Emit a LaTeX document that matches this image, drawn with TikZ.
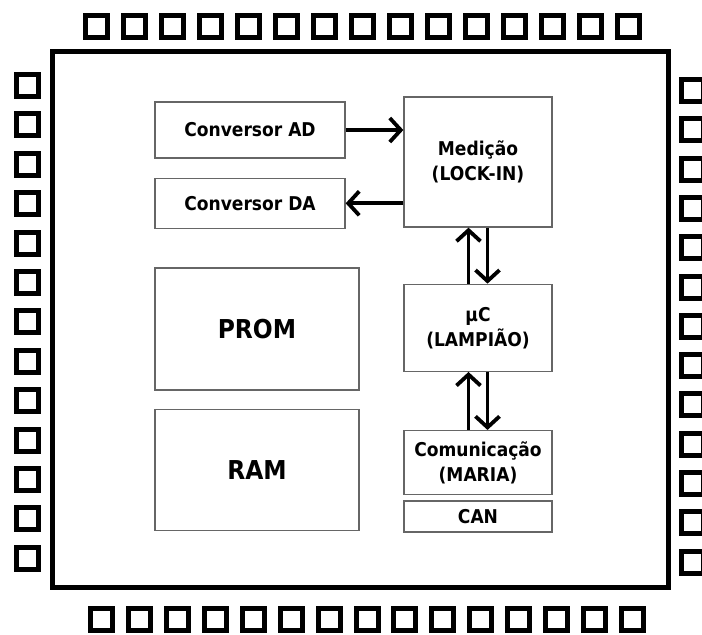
\documentclass[tikz,border=0pt]{standalone}
\usepackage{fontspec}
\setmainfont{DejaVu Sans}[FakeStretch=0.9]
\usetikzlibrary{arrows.meta, positioning}

\tikzset{
  chip/.style={draw, line width=5pt, inner sep=0pt},
  pad/.style={draw, line width=5pt, minimum size=22pt, inner sep=0pt},
  block/.style={draw=black!60, line width=1.3pt, inner sep=0pt, align=center,
    font=\bfseries\fontsize{19}{25}\selectfont},
  bigblock/.style={block, font=\bfseries\fontsize{26}{30}\selectfont},
  flow/.style={line width=3.8pt, -{Straight Barb[length=11pt,width=24pt]}},
}

\begin{document}
\begin{tikzpicture}[x=1pt, y=-1pt]
  \useasboundingbox (0,0) rectangle (702,635);
  % chip body
  \node [chip, minimum width=616pt, minimum height=536pt] (chip) at (360.5,319.5) {};
  % pads round the chip
  \foreach \i in {0,...,14} {
    \node [pad] (top\i) at (96.5+38*\i, 26.5) {};
    \node [pad] (bot\i) at (101.5+37.93*\i, 619) {};
  }
  \foreach \i in {0,...,12} {
    \node [pad] (left\i) at (27.5, 85.5+39.4*\i) {};
    \node [pad] (right\i) at (692, 90.5+39.3*\i) {};
  }
  % converters
  \node [block, minimum width=190pt, minimum height=56pt] (ad) at (250,130) {Conversor AD};
  \node [block, minimum width=190pt, minimum height=50pt, below=19pt of ad] (da) {Conversor DA};
  % memories
  \node [bigblock, minimum width=204pt, minimum height=122pt] (prom) at (257,329) {PROM};
  \node [bigblock, minimum width=204pt, minimum height=121pt, below=18pt of prom] (ram) {RAM};
  % right column
  \node [block, minimum width=148pt, minimum height=130pt] (med) at (478,162) {Medição\\(LOCK-IN)};
  \node [block, minimum width=148pt, minimum height=87pt, below=56pt of med] (uc) {µC\\(LAMPIÃO)};
  \node [block, minimum width=148pt, minimum height=64pt, below=58pt of uc] (com) {Comunicação\\(MARIA)};
  \node [block, minimum width=148pt, minimum height=31pt, below=5pt of com] (can) {CAN};
  % data flow
  \draw [flow] (ad.east) -- (ad.east -| med.west);
  \draw [flow] (da.east -| med.west) -- (da.east);
  \draw [flow] ([xshift=-9.5pt]uc.north) -- ([xshift=-9.5pt]med.south);
  \draw [flow] ([xshift=9.5pt]med.south) -- ([xshift=9.5pt]uc.north);
  \draw [flow] ([xshift=-9.5pt]com.north) -- ([xshift=-9.5pt]uc.south);
  \draw [flow] ([xshift=9.5pt]uc.south) -- ([xshift=9.5pt]com.north);
\end{tikzpicture}
\end{document}
